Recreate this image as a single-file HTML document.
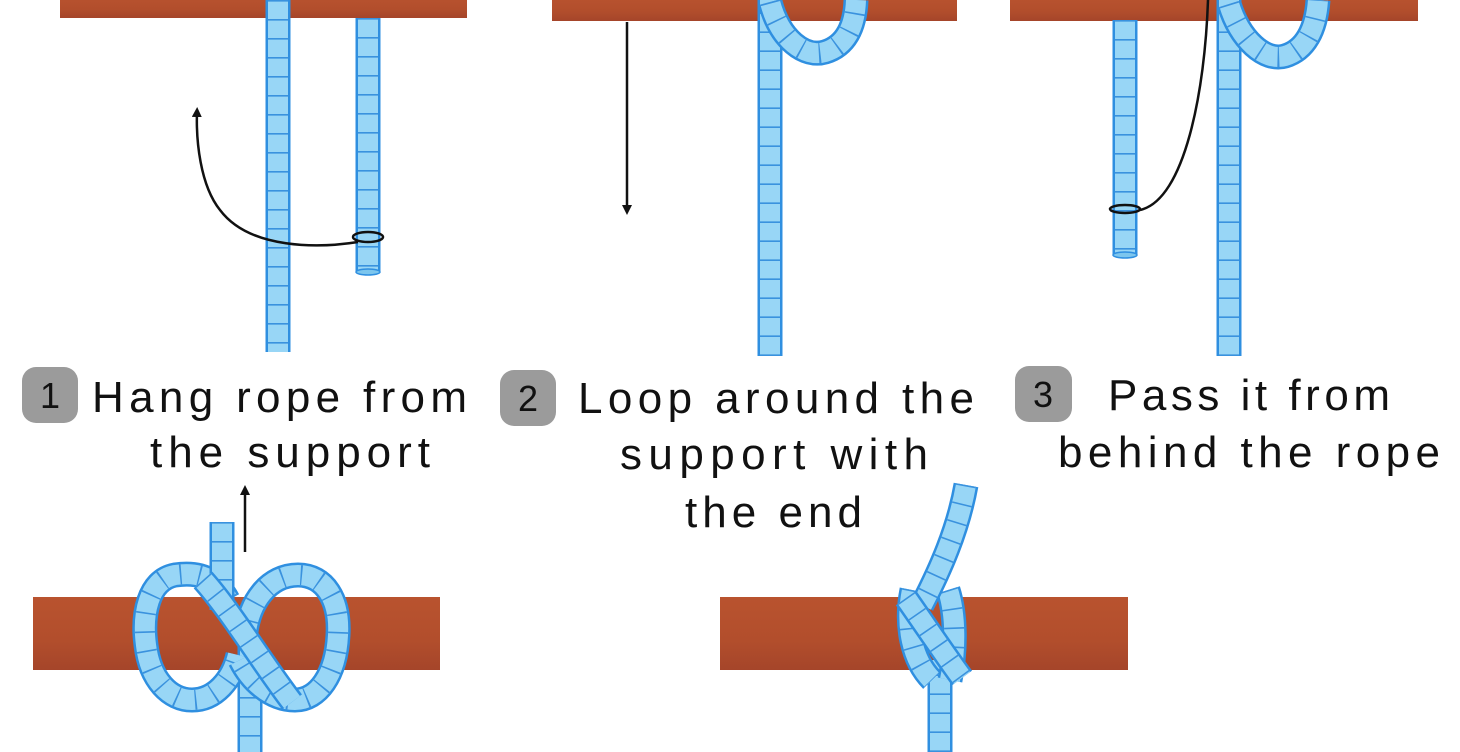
<!DOCTYPE html>
<html><head><meta charset="utf-8"><style>
html,body{margin:0;padding:0;background:#fff;}
svg{display:block}
.o{fill:none;stroke:#2f8fe0;stroke-width:25}
.i{fill:none;stroke:#98d6f6;stroke-width:20}
.s{fill:none;stroke:#3a92de;stroke-width:20;stroke-dasharray:1.6 17.4}
.t{font-family:"Liberation Sans",sans-serif;font-size:44px;fill:#111;}
.b{font-family:"Liberation Sans",sans-serif;font-size:36px;fill:#111;}
</style></head><body>
<svg width="1460" height="752" viewBox="0 0 1460 752" xmlns="http://www.w3.org/2000/svg">
<defs>
<marker id="ah" markerWidth="10" markerHeight="10" refX="5" refY="5" orient="auto" markerUnits="userSpaceOnUse" viewBox="0 0 10 10">
<path d="M0,0 L10,5 L0,10 z" fill="#111"/></marker>
<linearGradient id="bar" x1="0" y1="0" x2="0" y2="1"><stop offset="0" stop-color="#b9532f"/><stop offset="0.6" stop-color="#b24e2c"/><stop offset="1" stop-color="#a5452a"/></linearGradient>
<path id="r1" d="M278 0 V352"/>
<path id="r2" d="M368 18 V272"/>
<path id="r3" d="M770 356 V0"/>
<path id="l3" d="M770 2 C780 40 805 58 825 52 C845 46 855 28 856 0"/>
<path id="r4" d="M1125 20 V255"/>
<path id="r5" d="M1229 356 V0"/>
<path id="l5" d="M1229 4 C1240 40 1265 62 1285 56 C1305 50 1316 30 1318 0"/>
<path id="k1a" d="M222 522 V610"/>
<path id="k1L" d="M228 600 C215 575 195 572 175 575 C148 580 142 615 146 645 C150 680 170 700 192 700 C215 700 232 680 238 655"/>
<path id="k1R" d="M245 640 C248 600 270 575 298 575 C325 575 340 600 338 635 C336 675 318 700 295 700 C270 700 250 680 240 660"/>
<path id="k1d" d="M203 580 C230 610 260 660 292 702"/>
<path id="k1v" d="M250 640 V752"/>
<path id="k2u" d="M966 485 C958 530 940 570 922 605"/>
<path id="k2l" d="M912 590 C905 625 912 660 932 680"/>
<path id="k2r" d="M948 590 C956 615 956 650 950 680"/>
<path id="k2d" d="M906 598 C925 625 945 655 962 678"/>
<path id="k2v" d="M940 752 V660"/>
</defs>

<!-- Panel 1 -->
<rect x="60" y="-4" width="407" height="22" fill="url(#bar)"/>
<g><use href="#r1" class="o"/><use href="#r1" class="i"/><use href="#r1" class="s"/>
<use href="#r2" class="o"/><use href="#r2" class="i"/><use href="#r2" class="s"/></g>
<ellipse cx="368" cy="272" rx="12" ry="3" fill="#7cc6ee" stroke="#2f8fe0" stroke-width="1.5"/>
<path d="M358 242 C320 248 250 250 220 210 C200 185 196 140 197 112" fill="none" stroke="#111" stroke-width="2.5" marker-end="url(#ah)"/>
<ellipse cx="368" cy="237" rx="15" ry="5" fill="none" stroke="#111" stroke-width="2.5"/>

<!-- Panel 2 -->
<rect x="552" y="-4" width="405" height="25" fill="url(#bar)"/>
<g><use href="#r3" class="o"/><use href="#r3" class="i"/><use href="#r3" class="s"/>
<use href="#l3" class="o"/><use href="#l3" class="i"/><use href="#l3" class="s"/></g>
<path d="M627 22 V210" stroke="#111" stroke-width="2.5" marker-end="url(#ah)"/>

<!-- Panel 3 -->
<rect x="1010" y="-4" width="408" height="25" fill="url(#bar)"/>
<g><use href="#r4" class="o"/><use href="#r4" class="i"/><use href="#r4" class="s"/>
<use href="#r5" class="o"/><use href="#r5" class="i"/><use href="#r5" class="s"/>
<use href="#l5" class="o"/><use href="#l5" class="i"/><use href="#l5" class="s"/></g>
<ellipse cx="1125" cy="255" rx="12" ry="3" fill="#7cc6ee" stroke="#2f8fe0" stroke-width="1.5"/>
<path d="M1208 0 C1205 90 1185 200 1140 210" fill="none" stroke="#111" stroke-width="2.5"/>
<ellipse cx="1125" cy="209" rx="15" ry="4" fill="none" stroke="#111" stroke-width="2.5"/>

<!-- Labels -->
<rect x="22" y="367" width="56" height="56" rx="14" fill="#9b9b9b"/>
<text class="b" x="50" y="408" text-anchor="middle">1</text>
<text class="t" x="92" y="412" textLength="375" lengthAdjust="spacing">Hang rope from</text>
<text class="t" x="150" y="467" textLength="280" lengthAdjust="spacing">the support</text>

<rect x="500" y="370" width="56" height="56" rx="14" fill="#9b9b9b"/>
<text class="b" x="528" y="411" text-anchor="middle">2</text>
<text class="t" x="578" y="413" textLength="396" lengthAdjust="spacing">Loop around the</text>
<text class="t" x="620" y="469" textLength="308" lengthAdjust="spacing">support with</text>
<text class="t" x="685" y="527" textLength="177" lengthAdjust="spacing">the end</text>

<rect x="1015" y="366" width="57" height="56" rx="14" fill="#9b9b9b"/>
<text class="b" x="1043" y="407" text-anchor="middle">3</text>
<text class="t" x="1108" y="410" textLength="282" lengthAdjust="spacing">Pass it from</text>
<text class="t" x="1058" y="467" textLength="382" lengthAdjust="spacing">behind the rope</text>

<!-- Knot 1 -->
<rect x="33" y="597" width="407" height="73" fill="url(#bar)"/>
<g>
<use href="#k1v" class="o"/><use href="#k1v" class="i"/><use href="#k1v" class="s"/>
<use href="#k1L" class="o"/><use href="#k1L" class="i"/><use href="#k1L" class="s"/>
<use href="#k1R" class="o"/><use href="#k1R" class="i"/><use href="#k1R" class="s"/>
<use href="#k1a" class="o"/><use href="#k1a" class="i"/><use href="#k1a" class="s"/>
<use href="#k1d" class="o"/><use href="#k1d" class="i"/><use href="#k1d" class="s"/>
</g>
<path d="M245 552 V490" stroke="#111" stroke-width="2.5" marker-end="url(#ah)"/>

<!-- Knot 2 -->
<rect x="720" y="597" width="408" height="73" fill="url(#bar)"/>
<g>
<use href="#k2v" class="o"/><use href="#k2v" class="i"/><use href="#k2v" class="s"/>
<use href="#k2l" class="o"/><use href="#k2l" class="i"/><use href="#k2l" class="s"/>
<use href="#k2r" class="o"/><use href="#k2r" class="i"/><use href="#k2r" class="s"/>
<use href="#k2u" class="o"/><use href="#k2u" class="i"/><use href="#k2u" class="s"/>
<use href="#k2d" class="o"/><use href="#k2d" class="i"/><use href="#k2d" class="s"/>
</g>
</svg>
</body></html>
